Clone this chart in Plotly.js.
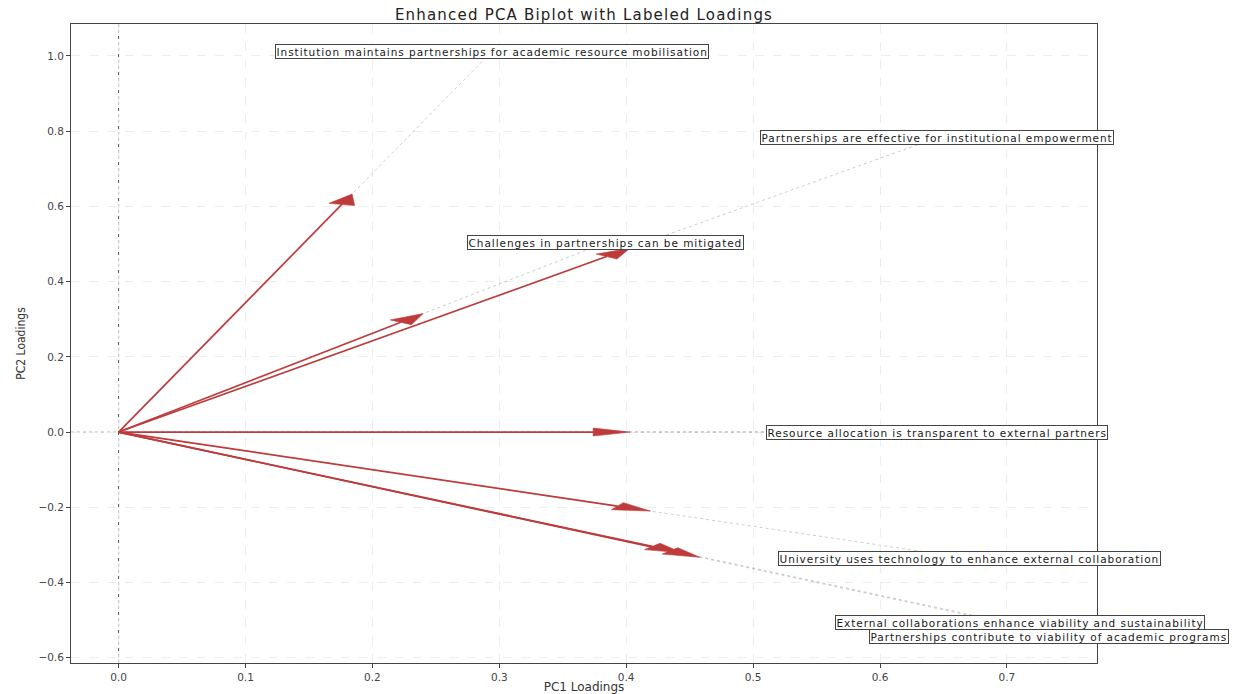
<!DOCTYPE html>
<html>
<head>
<meta charset="utf-8">
<script src="https://cdn.plot.ly/plotly-3.0.1.min.js"></script>
<style>
html,body{margin:0;padding:0;background:#fff;}
#chart{width:1239px;height:694px;}
text.annotation-text{letter-spacing:0.95px;}
text.gtitle{letter-spacing:1.2px;}
</style>
</head>
<body>
<div id="chart"></div>
<script>
// ---- data ----
const variables = [
  "Institution maintains partnerships for academic resource mobilisation",
  "Partnerships are effective for institutional empowerment",
  "Challenges in partnerships can be mitigated",
  "Resource allocation is transparent to external partners",
  "University uses technology to enhance external collaboration",
  "External collaborations enhance viability and sustainability",
  "Partnerships contribute to viability of academic programs"
];
const pc1Loadings = [0.184, 0.403, 0.240, 0.403, 0.419, 0.444, 0.458];
const pc2Loadings = [0.633, 0.489, 0.315, 0.000, -0.210, -0.321, -0.333];
const xTickVals = [0.0, 0.1, 0.2, 0.3, 0.4, 0.5, 0.6, 0.7];
const yTickVals = [-0.6, -0.4, -0.2, 0.0, 0.2, 0.4, 0.6, 0.8, 1.0];

// ---- styling constants ----
const labelScale = 1.6;      // labels placed at 1.6 x loading
const headLength = 0.029;    // arrow head length (data units)
const headWidth = 0.021;     // arrow head width (data units)
const arrowColor = "#bf3b3b";
const fontMain = "DejaVu Sans, Verdana, sans-serif";
// small vertical nudges (px) so the two crowded labels stay legible
const labelNudge = {5: 3, 6: -4};

// guide lines origin -> label
const gx = [], gy = [];
// shafts
const sx = [], sy = [];
// heads
const hx = [], hy = [];
for (let i = 0; i < variables.length; i++) {
  const x = pc1Loadings[i], y = pc2Loadings[i];
  gx.push(0, x * labelScale, null);
  gy.push(0, y * labelScale, null);
  const L = Math.hypot(x, y);
  const ux = x / L, uy = y / L;
  const bx = x - headLength * ux, by = y - headLength * uy;
  const px = -uy * headWidth / 2, py = ux * headWidth / 2;
  sx.push(0, bx, null);
  sy.push(0, by, null);
  hx.push(x, bx + px, bx - px, x, null);
  hy.push(y, by + py, by - py, y, null);
}

const traces = [
  {x: gx, y: gy, mode: "lines", type: "scatter", hoverinfo: "skip",
   line: {color: "rgba(140,140,140,0.55)", width: 0.8, dash: "dot"}, showlegend: false},
  {x: sx, y: sy, mode: "lines", type: "scatter", hoverinfo: "skip",
   line: {color: arrowColor, width: 1.7}, showlegend: false},
  {x: hx, y: hy, mode: "lines", type: "scatter", fill: "toself", hoverinfo: "skip",
   fillcolor: arrowColor, line: {color: arrowColor, width: 0.6}, showlegend: false}
];

const annotations = variables.map((t, i) => ({
  x: pc1Loadings[i] * labelScale, y: pc2Loadings[i] * labelScale,
  xref: "x", yref: "y", text: t, showarrow: false,
  xanchor: "center", yanchor: "middle", yshift: labelNudge[i] || 0,
  font: {family: fontMain, size: 10.5, color: "#1a1a1a"},
  bgcolor: "#ffffff", bordercolor: "#444", borderwidth: 1, borderpad: 0.5
}));

const axisCommon = {
  showline: true, mirror: true, linecolor: "#444", linewidth: 1,
  ticks: "outside", ticklen: 4, tickwidth: 1, tickcolor: "#444",
  showgrid: true, gridcolor: "#e9e9e9", gridwidth: 0.8, griddash: "dash",
  zeroline: false,
  tickfont: {family: fontMain, size: 10.5, color: "#444"}
};

const layout = {
  width: 1239, height: 694,
  margin: {l: 71, r: 142, t: 24, b: 31},
  paper_bgcolor: "#fff", plot_bgcolor: "#fff",
  title: {text: "Enhanced PCA Biplot with Labeled Loadings",
          font: {family: fontMain, size: 15, color: "#222"},
          x: 0.5, xref: "paper", xanchor: "center",
          y: 1, yref: "paper", yanchor: "bottom", pad: {b: 4}},
  xaxis: Object.assign({}, axisCommon, {
    range: [-0.0375, 0.771], tickvals: xTickVals,
    ticktext: xTickVals.map(v => v.toFixed(1)),
    title: {text: "PC1 Loadings", standoff: 3,
            font: {family: fontMain, size: 12, color: "#333"}}
  }),
  yaxis: Object.assign({}, axisCommon, {
    range: [-0.614, 1.085], tickvals: yTickVals,
    ticktext: yTickVals.map(v => (v < 0 ? "\u2212" + Math.abs(v).toFixed(1) : v.toFixed(1))),
    title: {text: "PC2 Loadings", standoff: 10,
            font: {family: "DejaVu Sans Condensed, Liberation Sans Narrow, Roboto, sans-serif", size: 12, color: "#333"}}
  }),
  shapes: [
    {type: "line", xref: "x", yref: "paper", x0: 0, x1: 0, y0: 0, y1: 1,
     line: {color: "#555", width: 1, dash: "dot"}, layer: "below"},
    {type: "line", xref: "paper", yref: "y", x0: 0, x1: 1, y0: 0, y1: 0,
     line: {color: "#aaa", width: 1, dash: "dot"}, layer: "below"}
  ],
  annotations: annotations,
  showlegend: false
};

Plotly.newPlot("chart", traces, layout, {displayModeBar: false, staticPlot: true});
</script>
</body>
</html>
